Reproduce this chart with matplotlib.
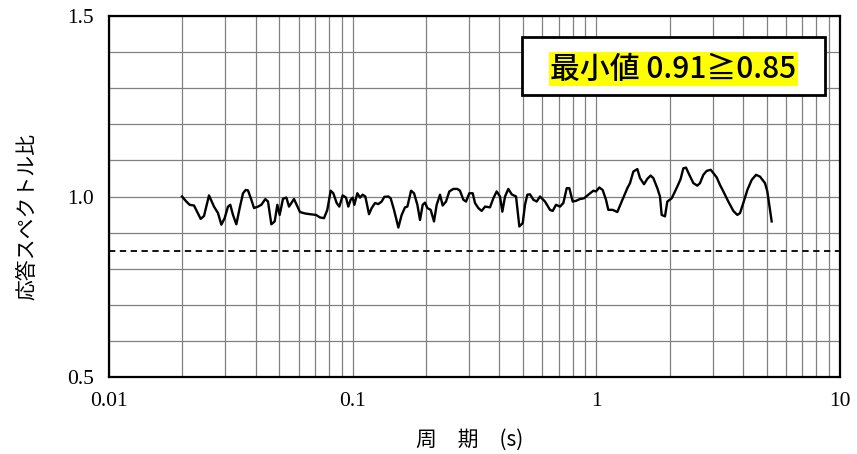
import matplotlib
matplotlib.use("Agg")
import matplotlib.pyplot as plt
from matplotlib.ticker import FixedLocator, NullFormatter, LogLocator
from matplotlib.patches import Rectangle

# ---- data (period [s], response spectrum ratio) ----
period = [
    0.01994, 0.02077, 0.02144, 0.02233, 0.02378, 0.02454, 0.02573, 0.02697, 0.02801, 0.02891,
    0.02983, 0.03078, 0.03146, 0.03227, 0.03331, 0.03438, 0.03548, 0.03639, 0.03719, 0.03838,
    0.03937, 0.04088, 0.04219, 0.04381, 0.04493, 0.04637, 0.04786, 0.04907, 0.05017, 0.05178,
    0.05344, 0.05480, 0.05743,
    0.06078, 0.06373, 0.06680, 0.07071, 0.07344, 0.07626, 0.07870, 0.08122, 0.08329, 0.08596,
    0.08815, 0.09099, 0.09389, 0.09598, 0.09812, 0.1000, 0.1016, 0.1045, 0.1072, 0.1099,
    0.1127, 0.1167, 0.1197, 0.1235, 0.1274, 0.1315, 0.1349, 0.1401, 0.1432, 0.1478,
    0.1540, 0.1589, 0.1640, 0.1677, 0.1736, 0.1786, 0.1843,
    0.1890, 0.1938, 0.1981, 0.2025, 0.2090, 0.2157, 0.2212, 0.2283, 0.2341, 0.2416,
    0.2493, 0.2589, 0.2689, 0.2757, 0.2846, 0.2919, 0.3012, 0.3109, 0.3177, 0.3279,
    0.3384, 0.3493, 0.3661, 0.3778, 0.3899, 0.4024, 0.4114, 0.4219, 0.4354, 0.4493,
    0.4682, 0.4831, 0.4986, 0.5097, 0.5210, 0.5344, 0.5515, 0.5692,
    0.5873, 0.6157, 0.6454, 0.6619, 0.6832, 0.7095, 0.7322, 0.7557, 0.7750, 0.7998,
    0.8252, 0.8570, 0.8900, 0.9273, 0.9721, 0.9968, 1.0287, 1.0617, 1.0956, 1.1200,
    1.1668, 1.2195, 1.2705, 1.3403, 1.3747, 1.4185, 1.4731, 1.5109, 1.5691, 1.6193,
    1.6711, 1.7137, 1.7797,
    1.825, 1.854, 1.913, 1.956, 2.038, 2.103, 2.171, 2.219, 2.275, 2.333,
    2.408, 2.501, 2.597, 2.663, 2.749, 2.837, 2.946, 3.021, 3.118, 3.218,
    3.321, 3.481, 3.650, 3.790, 3.887, 4.011, 4.166, 4.341, 4.523, 4.697,
    4.923, 5.032, 5.243,
]
ratio = [
    1.000, 0.986, 0.977, 0.975, 0.938, 0.946, 1.003, 0.972, 0.954, 0.922,
    0.940, 0.972, 0.977, 0.949, 0.923, 0.968, 1.009, 1.018, 1.017, 0.991,
    0.968, 0.972, 0.977, 0.993, 0.986, 0.923, 0.931, 0.977, 0.949, 0.994,
    0.997, 0.972, 0.993,
    0.957, 0.953, 0.951, 0.949, 0.942, 0.940, 0.963, 1.016, 1.009, 0.982,
    0.972, 1.003, 0.997, 0.972, 0.991, 0.997, 0.977, 1.009, 0.997, 1.005,
    1.000, 0.951, 0.968, 0.982, 0.979, 0.986, 0.999, 1.000, 0.995, 0.963,
    0.914, 0.949, 0.970, 0.972, 1.016, 1.009, 0.977,
    0.935, 0.977, 0.983, 0.968, 0.963, 0.931, 0.977, 1.005, 0.975, 0.986,
    1.014, 1.021, 1.021, 1.016, 0.991, 0.986, 1.009, 1.009, 0.982, 0.968,
    0.960, 0.972, 0.970, 0.995, 1.014, 1.000, 0.958, 1.000, 1.021, 1.006,
    1.000, 0.917, 0.926, 0.977, 1.005, 1.006, 0.991, 0.986,
    1.000, 0.986, 0.963, 0.960, 0.977, 0.972, 0.982, 1.023, 1.023, 0.986,
    0.988, 0.993, 0.995, 1.005, 1.016, 1.014, 1.025, 1.018, 0.991, 0.963,
    0.963, 0.957, 0.986, 1.023, 1.037, 1.069, 1.076, 1.051, 1.034, 1.049,
    1.058, 1.051, 1.023,
    1.000, 0.949, 0.945, 0.986, 0.995, 1.014, 1.034, 1.049, 1.078, 1.080,
    1.060, 1.037, 1.030, 1.037, 1.060, 1.071, 1.074, 1.065, 1.053, 1.032,
    1.014, 0.986, 0.960, 0.949, 0.954, 0.982, 1.018, 1.046, 1.060, 1.055,
    1.037, 1.014, 0.931,
]
threshold = 0.85
x_ticks = [0.01, 0.1, 1, 10]
x_ticklabels = ["0.01", "0.1", "1", "10"]
y_ticks = [0.5, 1.0, 1.5]
y_ticklabels = ["0.5", "1.0", "1.5"]
y_grid = [0.6, 0.7, 0.8, 0.9, 1.1, 1.2, 1.3, 1.4]
annotation = "最小値 0.91≧0.85"
xlabel = "周　期　(s)"
ylabel = "応答スペクトル比"

cjk = ["Noto Sans CJK JP", "DejaVu Sans"]
num_font = "Liberation Serif"

fig = plt.figure(figsize=(8.57, 4.54), dpi=100)
ax = fig.add_axes([109 / 857, 1 - 377 / 454, (840 - 109) / 857, (377 - 16) / 454])

ax.set_xscale("log")
ax.set_xlim(0.01, 10)
ax.set_ylim(0.5, 1.5)

ax.xaxis.set_major_locator(FixedLocator(x_ticks))
ax.xaxis.set_minor_locator(LogLocator(base=10, subs=range(2, 10)))
ax.xaxis.set_minor_formatter(NullFormatter())
ax.set_xticks(x_ticks)
ax.set_xticklabels(x_ticklabels, fontfamily=num_font, fontsize=15.5)
ax.set_yticks(y_ticks)
ax.set_yticklabels(y_ticklabels, fontfamily=num_font, fontsize=15.5)
ax.set_yticks(y_grid, minor=True)
ax.tick_params(which="both", length=0)
ax.tick_params(axis="x", pad=11)
ax.tick_params(axis="y", pad=11)

grid_color = "#808080"
ax.grid(True, which="both", axis="both", color=grid_color, linewidth=0.9)
ax.set_axisbelow(True)
for s in ax.spines.values():
    s.set_linewidth(1.6)
    s.set_color("black")

ax.plot(period, ratio, color="black", linewidth=1.7, zorder=3)
ax.axhline(threshold, color="black", linewidth=1.3, linestyle=(0, (3.5, 2.5)), zorder=3)

fig.text(470 / 857, 1 - 440 / 454, xlabel, fontfamily=cjk, fontsize=15,
         ha="center", va="center")
fig.text(27 / 857, 1 - 216 / 454, ylabel, fontfamily=cjk, fontsize=15,
         ha="center", va="center", rotation=90)

# annotation box
box = Rectangle((522 / 857, 1 - 95 / 454), (825 - 522) / 857, (95 - 37) / 454,
                transform=fig.transFigure, facecolor="white", edgecolor="black",
                linewidth=2.0, zorder=5)
fig.patches.append(box)
fig.text(673.5 / 857, 1 - 69 / 454, annotation, fontfamily=cjk, fontsize=21.5,
         fontweight="medium", ha="center", va="center", zorder=6,
         bbox=dict(facecolor="#FFFF00", edgecolor="none", pad=1.0))

fig.savefig("out.png", dpi=100)
